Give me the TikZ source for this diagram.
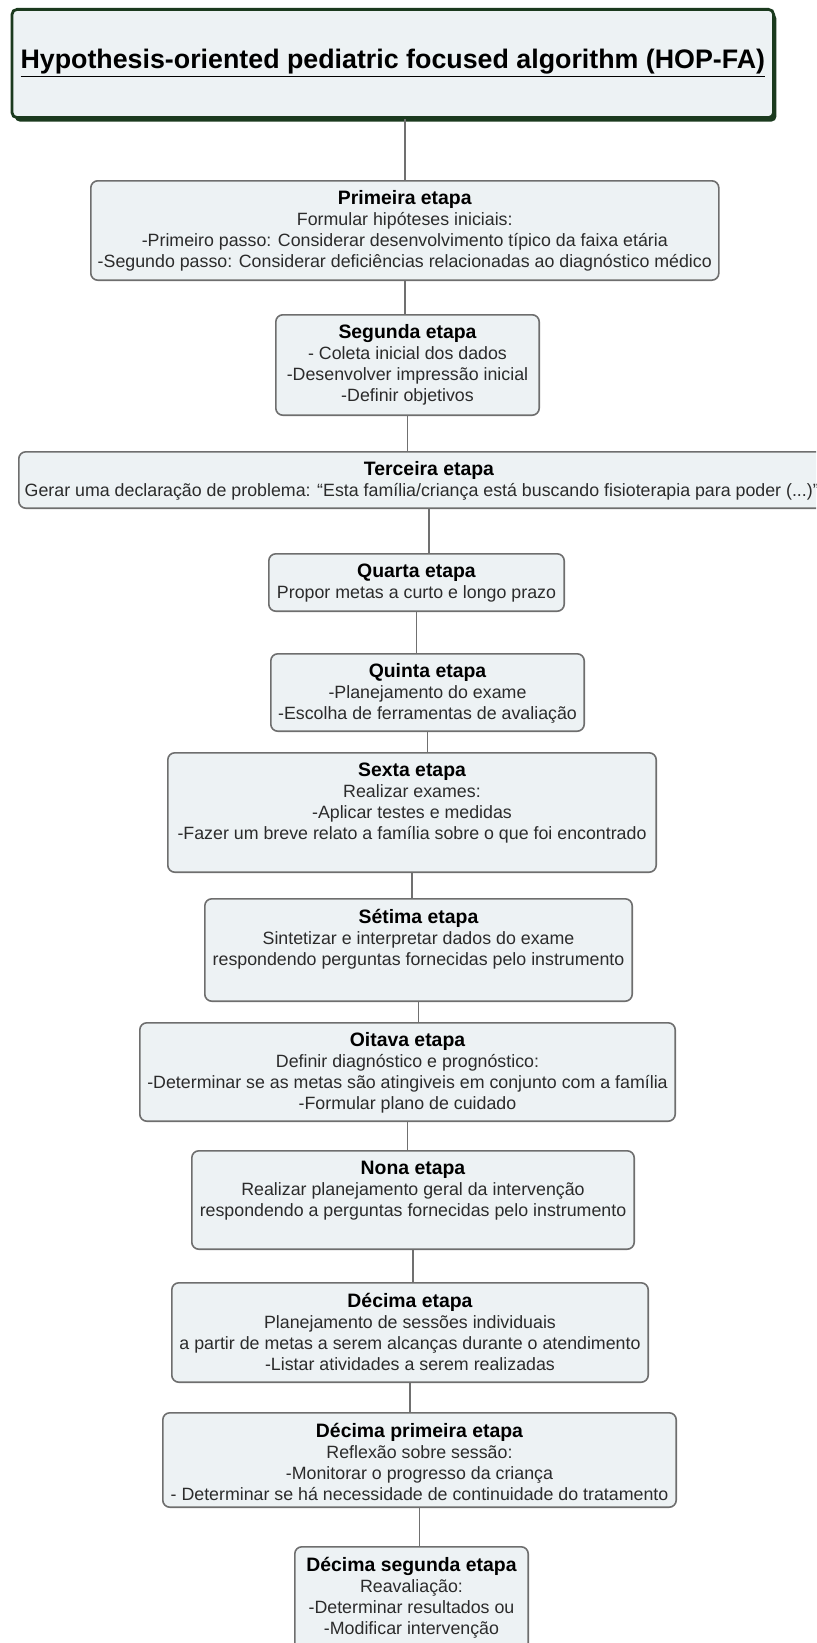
\documentclass[tikz,border=0pt]{standalone}
\usepackage{fontspec}
\setmainfont{Liberation Sans}
\usepackage{xcolor}
\usepackage{tikz}
\usetikzlibrary{positioning,shadows}

\definecolor{boxfill}{HTML}{EDF2F4}
\definecolor{boxline}{HTML}{6E6E6E}
\definecolor{linkgray}{HTML}{707070}
\definecolor{titleline}{HTML}{1B3A1E}
\definecolor{bodytext}{HTML}{2B2B2B}

% box text: width, height, heading, lines
\newcommand{\etapatext}[4]{%
  \parbox[t][#2][t]{#1}{\centering\fontsize{8.9}{10.5}\selectfont
    {\fontsize{9.7}{10.5}\selectfont\bfseries\color{black}#3}\\#4}}

\begin{document}
\begin{tikzpicture}[
    node distance=10pt and 10pt,
    titlebox/.style={draw=titleline, line width=1.4pt, fill=boxfill, rounded corners=2.5pt,
      minimum width=380.8pt, minimum height=54.1pt,
      font=\fontsize{13.4}{15}\selectfont\bfseries,
      general shadow={fill=titleline, shadow xshift=1.4pt, shadow yshift=-2pt}},
    etapa/.style={draw=boxline, line width=0.8pt, fill=boxfill, rounded corners=3.5pt,
      inner xsep=2pt, inner ysep=5pt, text=bodytext},
    link/.style={draw=linkgray, line width=0.7pt}
  ]
    \useasboundingbox (0,0) rectangle (408pt,-821.5pt);
    \clip (0,0) rectangle (408pt,-821.5pt);

    \node[titlebox] (title) at (196.4pt,-31.75pt) {\underline{Hypothesis-oriented pediatric focused algorithm (HOP-FA)}};

    \node[etapa, below=30.5pt of title, xshift=6pt] (s1) {\etapatext{310pt}{39.7pt}{Primeira etapa}{Formular hipóteses iniciais:\\-Primeiro passo: Considerar desenvolvimento típico da faixa etária\\-Segundo passo: Considerar deficiências relacionadas ao diagnóstico médico}};
    \node[etapa, below=16.5pt of s1, xshift=1.35pt] (s2) {\etapatext{127.7pt}{40.2pt}{Segunda etapa}{- Coleta inicial dos dados\\-Desenvolver impressão inicial\\-Definir objetivos}};
    \node[etapa, below=17.5pt of s2, xshift=10.75pt] (s3) {\etapatext{406.2pt}{18.2pt}{Terceira etapa}{Gerar uma declaração de problema: “Esta família/criança está buscando fisioterapia para poder (...)”\hspace*{7.2pt}}};
    \node[etapa, below=22pt of s3, xshift=-6.25pt] (s4) {\etapatext{143.7pt}{18.7pt}{Quarta etapa}{Propor metas a curto e longo prazo}};
    \node[etapa, below=20.5pt of s4, xshift=5.5pt] (s5) {\etapatext{152.7pt}{28.7pt}{Quinta etapa}{-Planejamento do exame\\-Escolha de ferramentas de avaliação}};
    \node[etapa, below=10pt of s5, xshift=-7.75pt] (s6) {\etapatext{240.2pt}{49.7pt}{Sexta etapa}{Realizar exames:\\-Aplicar testes e medidas\\-Fazer um breve relato a família sobre o que foi encontrado}};
    \node[etapa, below=12.5pt of s6, xshift=3.25pt] (s7) {\etapatext{209.7pt}{41.2pt}{Sétima etapa}{Sintetizar e interpretar dados do exame\\respondendo perguntas fornecidas pelo instrumento}};
    \node[etapa, below=10pt of s7, xshift=-5.5pt] (s8) {\etapatext{263.7pt}{39.2pt}{Oitava etapa}{Definir diagnóstico e prognóstico:\\-Determinar se as metas são atingiveis em conjunto com a família\\-Formular plano de cuidado}};
    \node[etapa, below=14pt of s8, xshift=2.75pt] (s9) {\etapatext{217.2pt}{39.2pt}{Nona etapa}{Realizar planejamento geral da intervenção\\respondendo a perguntas fornecidas pelo instrumento}};
    \node[etapa, below=16pt of s9, xshift=-1.5pt] (s10) {\etapatext{234.2pt}{39.7pt}{Décima etapa}{Planejamento de sessões individuais\\a partir de metas a serem alcanças durante o atendimento\\-Listar atividades a serem realizadas}};
    \node[etapa, below=14.5pt of s10, xshift=4.75pt] (s11) {\etapatext{252.7pt}{37.2pt}{Décima primeira etapa}{Reflexão sobre sessão:\\-Monitorar o progresso da criança\\- Determinar se há necessidade de continuidade do tratamento}};
    \node[etapa, below=19pt of s11, xshift=-4pt] (s12) {\etapatext{112.7pt}{49.2pt}{Décima segunda etapa}{Reavaliação:\\-Determinar resultados ou\\-Modificar intervenção}};

    \draw[link] (s1.north) -- (s1.north |- title.south);
    \draw[link] (s1.south) -- (s1.south |- s2.north);
    \draw[link] (s2.south) -- (s2.south |- s3.north);
    \draw[link] (s3.south) -- (s3.south |- s4.north);
    \draw[link] (s4.south) -- (s4.south |- s5.north);
    \draw[link] (s5.south) -- (s5.south |- s6.north);
    \draw[link] (s6.south) -- (s6.south |- s7.north);
    \draw[link] (s7.south) -- (s7.south |- s8.north);
    \draw[link] (s8.south) -- (s8.south |- s9.north);
    \draw[link] (s9.south) -- (s9.south |- s10.north);
    \draw[link] (s10.south) -- (s10.south |- s11.north);
    \draw[link] (s11.south) -- (s11.south |- s12.north);
  \end{tikzpicture}
\end{document}
